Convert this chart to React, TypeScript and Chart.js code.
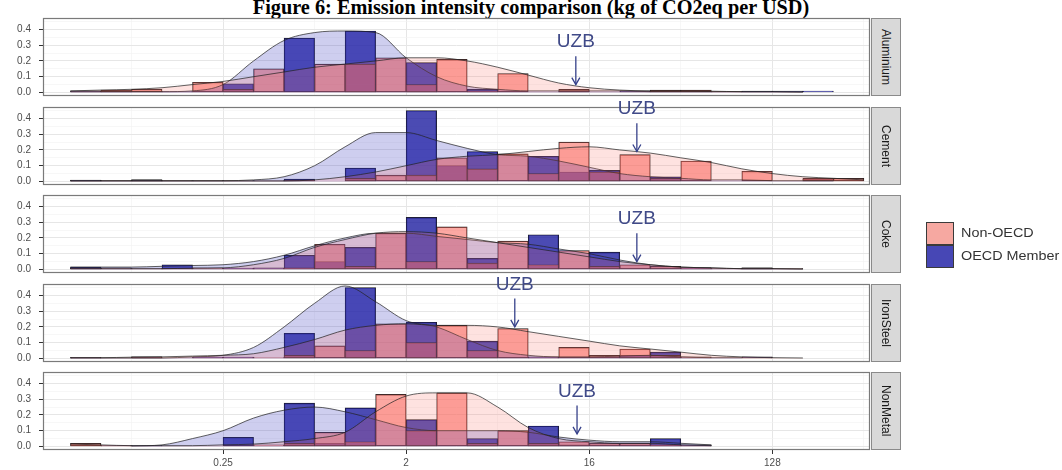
import React, { useEffect, useRef } from 'react';
import { Chart, registerables } from 'chart.js';

Chart.register(...registerables);

// ---------------- data ----------------
const sectors = ['Aluminium', 'Cement', 'Coke', 'IronSteel', 'NonMetal'];
const groupLabels = ['Non-OECD', 'OECD Member'];

// histogram bin centres (log2 of kg CO2eq per USD), bin width 0.5
const binCenters = [-4.25, -3.75, -3.25, -2.75, -2.25, -1.75, -1.25, -0.75, -0.25, 0.25, 0.75, 1.25, 1.75, 2.25, 2.75, 3.25, 3.75, 4.25, 4.75, 5.25, 5.75, 6.25, 6.75, 7.25, 7.75, 8.25];
// density sample positions (log2)
const densityX = [-4.5, -4, -3.5, -3, -2.5, -2, -1.5, -1, -0.5, 0, 0.5, 1, 1.5, 2, 2.5, 3, 3.5, 4, 4.5, 5, 5.5, 6, 6.5, 7, 7.5, 8, 8.5];

const xTickValues = [-2, 1, 4, 7];
const xTickLabels = ['0.25', '2', '16', '128'];
const xMinorTicks = [-3.5, -0.5, 2.5, 5.5, 8.5];
const yTickValues = [0, 0.1, 0.2, 0.3, 0.4];
const yTickLabels = ['0.0', '0.1', '0.2', '0.3', '0.4'];
const yMinorTicks = [0.05, 0.15, 0.25, 0.35, 0.45];

// histogram shares
const aluminiumNonOecd = [0, 0.015, 0.02, 0, 0.065, 0.02, 0.15, 0, 0.18, 0.18, 0.22, 0.05, 0.21, 0.01, 0.12, 0, 0.02, 0, 0, 0.015, 0.015, 0.005, 0, 0, 0, 0];
const aluminiumOecd = [0.01, 0.005, 0, 0.005, 0, 0.055, 0, 0.345, 0, 0.39, 0, 0.19, 0, 0.02, 0, 0, 0.01, 0, 0.01, 0, 0, 0, 0.008, 0.008, 0.008, 0];
const cementNonOecd = [0.005, 0.005, 0.005, 0.005, 0.005, 0.005, 0.005, 0.01, 0, 0.02, 0.04, 0.04, 0.15, 0.08, 0.175, 0.05, 0.25, 0.06, 0.17, 0.02, 0.13, 0, 0.065, 0, 0.02, 0.02];
const cementOecd = [0.008, 0, 0.012, 0, 0, 0, 0, 0.015, 0, 0.085, 0, 0.45, 0.1, 0.19, 0, 0.16, 0.06, 0.07, 0, 0.03, 0, 0, 0, 0, 0.015, 0];
const cokeNonOecd = [0.01, 0.01, 0.005, 0.005, 0.01, 0.005, 0.005, 0.01, 0.16, 0.02, 0.23, 0.05, 0.27, 0.04, 0.18, 0.03, 0.12, 0.02, 0.03, 0.02, 0.01, 0.005, 0.01, 0.005, 0, 0];
const cokeOecd = [0.015, 0, 0, 0.03, 0, 0.008, 0.01, 0.09, 0.05, 0.14, 0, 0.33, 0, 0.07, 0, 0.22, 0, 0.11, 0, 0, 0.01, 0, 0.01, 0, 0, 0];
const ironSteelNonOecd = [0.005, 0, 0.01, 0, 0.005, 0.005, 0.005, 0.02, 0.08, 0.05, 0.22, 0.1, 0.21, 0.05, 0.19, 0.005, 0.07, 0.02, 0.06, 0.02, 0.01, 0, 0.005, 0, 0, 0];
const ironSteelOecd = [0.005, 0, 0.01, 0, 0.008, 0.008, 0, 0.16, 0, 0.45, 0, 0.23, 0, 0.11, 0, 0.01, 0, 0, 0.02, 0.04, 0, 0, 0.01, 0, 0, 0];
const nonMetalNonOecd = [0.02, 0.005, 0, 0, 0, 0, 0.01, 0.02, 0.09, 0.03, 0.33, 0.1, 0.34, 0.02, 0.1, 0.02, 0.03, 0.02, 0.02, 0.01, 0.005, 0, 0, 0, 0, 0];
const nonMetalOecd = [0, 0.005, 0.005, 0, 0, 0.058, 0, 0.275, 0.02, 0.245, 0, 0.17, 0, 0.05, 0, 0.13, 0.01, 0, 0, 0.05, 0.01, 0, 0, 0, 0, 0];

// density curves
const aluminiumNonOecdDensity = [0.01, 0.015, 0.02, 0.03, 0.05, 0.07, 0.1, 0.13, 0.16, 0.18, 0.2, 0.22, 0.22, 0.2, 0.16, 0.11, 0.06, 0.03, 0.015, 0.01, 0.01, 0.008, 0.005, 0.005, 0.003, null, null];
const aluminiumOecdDensity = [0.005, 0.005, 0.005, 0.005, 0.01, 0.05, 0.2, 0.33, 0.38, 0.39, 0.38, 0.22, 0.1, 0.04, 0.02, 0.01, 0.01, 0.01, 0.01, 0.005, 0.005, 0.005, 0.005, 0.005, 0.003, null, null];
const cementNonOecdDensity = [0.003, 0.003, 0.003, 0.003, 0.003, 0.003, 0.003, 0.003, 0.01, 0.03, 0.06, 0.1, 0.14, 0.16, 0.17, 0.19, 0.21, 0.22, 0.2, 0.18, 0.15, 0.12, 0.08, 0.05, 0.03, 0.02, 0.01];
const cementOecdDensity = [0.005, 0.005, 0.005, 0.005, 0.005, 0.005, 0.01, 0.03, 0.1, 0.22, 0.31, 0.31, 0.26, 0.21, 0.17, 0.16, 0.13, 0.09, 0.05, 0.03, 0.02, 0.01, 0.01, 0.005, 0.005, 0.005, null];
const cokeNonOecdDensity = [0.005, 0.005, 0.005, 0.005, 0.008, 0.01, 0.03, 0.07, 0.14, 0.19, 0.23, 0.24, 0.23, 0.2, 0.17, 0.14, 0.11, 0.08, 0.05, 0.03, 0.015, 0.01, 0.005, 0.005, 0.003, null, null];
const cokeOecdDensity = [0.015, 0.015, 0.015, 0.02, 0.025, 0.03, 0.05, 0.09, 0.15, 0.2, 0.23, 0.23, 0.21, 0.19, 0.17, 0.16, 0.13, 0.1, 0.06, 0.03, 0.015, 0.01, 0.005, 0.005, 0.003, null, null];
const ironSteelNonOecdDensity = [0.005, 0.005, 0.008, 0.01, 0.015, 0.02, 0.03, 0.07, 0.12, 0.18, 0.21, 0.22, 0.21, 0.21, 0.2, 0.17, 0.14, 0.11, 0.08, 0.06, 0.04, 0.02, 0.01, 0.005, 0.003, null, null];
const ironSteelOecdDensity = [0.003, 0.003, 0.003, 0.003, 0.01, 0.02, 0.07, 0.2, 0.35, 0.46, 0.36, 0.24, 0.2, 0.12, 0.05, 0.02, 0.01, 0.01, 0.015, 0.02, 0.01, 0.005, 0.005, null, null, null, null];
const nonMetalNonOecdDensity = [0.015, 0.01, 0.005, 0.005, 0.005, 0.01, 0.015, 0.03, 0.05, 0.09, 0.22, 0.32, 0.34, 0.34, 0.25, 0.12, 0.05, 0.03, 0.02, 0.02, 0.01, 0.005, null, null, null, null, null];
const nonMetalOecdDensity = [null, null, 0.003, 0.01, 0.05, 0.1, 0.18, 0.23, 0.25, 0.22, 0.17, 0.12, 0.1, 0.1, 0.1, 0.09, 0.06, 0.04, 0.03, 0.03, 0.02, 0.01, null, null, null, null, null];

// Uzbekistan position (log2) and density height at that point
const uzbLog2 = [3.78, 4.78, 4.78, 2.78, 3.8];
const uzbTipY = [0.05, 0.19, 0.05, 0.2, 0.08];

const nonOecdHist = [aluminiumNonOecd, cementNonOecd, cokeNonOecd, ironSteelNonOecd, nonMetalNonOecd];
const oecdHist = [aluminiumOecd, cementOecd, cokeOecd, ironSteelOecd, nonMetalOecd];
const nonOecdDens = [aluminiumNonOecdDensity, cementNonOecdDensity, cokeNonOecdDensity, ironSteelNonOecdDensity, nonMetalNonOecdDensity];
const oecdDens = [aluminiumOecdDensity, cementOecdDensity, cokeOecdDensity, ironSteelOecdDensity, nonMetalOecdDensity];

// ---------------- layout / style ----------------
const FONT = '"Liberation Sans", Arial, Helvetica, sans-serif';
const PANEL_TOPS = [18, 107, 195, 284, 372];
const PANEL_H = 78;
const PAD_TOP = 34;
const PAD_BOTTOM = 22;
const X_AXIS_H = 20;
const CANVAS_W = 880;
const PAD_RIGHT = 10;
const Y_AXIS_W = 43;

const NON_BAR = 'rgba(250,110,100,0.6)';
const OECD_BAR = 'rgba(30,30,160,0.8)';
const NON_DENS = 'rgba(250,110,100,0.2)';
const OECD_DENS = 'rgba(60,60,190,0.25)';
const ARROW_COLOR = '#36418A';

const isNear = (a: number, list: number[]) => list.findIndex((v) => Math.abs(v - a) < 1e-6);

const decorPlugin = {
  id: 'panelDecor',
  afterDatasetsDraw(chart: any) {
    const { ctx, chartArea: a, scales } = chart;
    const o = chart.options.plugins.panelDecor;
    const xs = scales.x;
    const ys = scales.y;
    ctx.save();
    ctx.strokeStyle = '#7A7A7A';
    ctx.lineWidth = 1.2;
    ctx.strokeRect(a.left + 0.5, a.top + 0.5, a.right - a.left - 1, a.bottom - a.top - 1);
    const px = xs.getPixelForValue(o.uzbX);
    const tip = ys.getPixelForValue(o.tipY);
    const tail = ys.getPixelForValue(o.tipY + 0.18);
    const ty = ys.getPixelForValue(o.tipY + 0.27);
    ctx.strokeStyle = ARROW_COLOR;
    ctx.lineWidth = 1.3;
    ctx.beginPath();
    ctx.moveTo(px, tail);
    ctx.lineTo(px, tip);
    ctx.stroke();
    ctx.beginPath();
    ctx.moveTo(px - 4, tip - 7);
    ctx.lineTo(px, tip);
    ctx.lineTo(px + 4, tip - 7);
    ctx.stroke();
    ctx.fillStyle = '#404A88';
    ctx.font = `19px ${FONT}`;
    ctx.textAlign = 'center';
    ctx.textBaseline = 'middle';
    ctx.fillText('UZB', px, ty);
    ctx.restore();
  },
};

function Panel({ idx }: { idx: number }) {
  const ref = useRef<HTMLCanvasElement>(null);
  const isBottom = idx === sectors.length - 1;
  const height = PAD_TOP + PANEL_H + (isBottom ? X_AXIS_H : PAD_BOTTOM);

  useEffect(() => {
    const barData = (vals: number[]) => binCenters.map((c, i) => ({ x: c, y: vals[i] }));
    const densData = (vals: (number | null)[]) => densityX.map((c, i) => ({ x: c, y: vals[i] }));
    const chart = new Chart(ref.current as HTMLCanvasElement, {
      type: 'bar',
      data: {
        datasets: [
          {
            type: 'line',
            label: groupLabels[0] + ' density',
            data: densData(nonOecdDens[idx]) as any,
            borderColor: 'rgba(35,35,35,0.9)',
            borderWidth: 0.8,
            backgroundColor: NON_DENS,
            fill: 'origin',
            pointRadius: 0,
            tension: 0.4,
            cubicInterpolationMode: 'monotone',
            spanGaps: false,
            order: 0,
          } as any,
          {
            type: 'line',
            label: groupLabels[1] + ' density',
            data: densData(oecdDens[idx]) as any,
            borderColor: 'rgba(35,35,35,0.9)',
            borderWidth: 0.8,
            backgroundColor: OECD_DENS,
            fill: 'origin',
            pointRadius: 0,
            tension: 0.4,
            cubicInterpolationMode: 'monotone',
            spanGaps: false,
            order: 1,
          } as any,
          {
            type: 'bar',
            label: groupLabels[0],
            data: barData(nonOecdHist[idx]) as any,
            backgroundColor: NON_BAR,
            borderColor: '#1E1E1E',
            borderWidth: 0.7,
            borderSkipped: false,
            grouped: false,
            barPercentage: 1,
            categoryPercentage: 1,
            order: 2,
          } as any,
          {
            type: 'bar',
            label: groupLabels[1],
            data: barData(oecdHist[idx]) as any,
            backgroundColor: OECD_BAR,
            borderColor: '#1E1E1E',
            borderWidth: 0.7,
            borderSkipped: false,
            grouped: false,
            barPercentage: 1,
            categoryPercentage: 1,
            order: 3,
          } as any,
        ],
      },
      options: {
        responsive: false,
        animation: false,
        events: [],
        layout: { padding: { top: PAD_TOP, right: PAD_RIGHT, bottom: isBottom ? 0 : PAD_BOTTOM, left: 0 } },
        plugins: {
          legend: { display: false },
          tooltip: { enabled: false },
          title: { display: false },
          panelDecor: { uzbX: uzbLog2[idx], tipY: uzbTipY[idx] },
        } as any,
        scales: {
          x: {
            type: 'linear',
            min: -4.95,
            max: 8.6,
            offset: false,
            border: { display: false },
            afterBuildTicks: (s: any) => {
              s.ticks = [...xTickValues, ...xMinorTicks].sort((a, b) => a - b).map((v) => ({ value: v }));
            },
            afterFit: (s: any) => {
              s.height = isBottom ? X_AXIS_H : 0;
            },
            grid: {
              offset: false,
              drawTicks: isBottom,
              tickLength: 4,
              color: (c: any) => (c.tick && isNear(c.tick.value, xTickValues) >= 0 ? '#E6E6E6' : '#F2F2F2'),
              lineWidth: (c: any) => (c.tick && isNear(c.tick.value, xTickValues) >= 0 ? 1 : 0.6),
              tickColor: (c: any) => (c.tick && isNear(c.tick.value, xTickValues) >= 0 ? '#333333' : 'rgba(0,0,0,0)'),
            },
            ticks: {
              display: isBottom,
              autoSkip: false,
              maxRotation: 0,
              padding: 3,
              color: '#4D4D4D',
              font: { family: FONT, size: 10 },
              callback: (v: any) => {
                const k = isNear(Number(v), xTickValues);
                return k >= 0 ? xTickLabels[k] : '';
              },
            },
          },
          y: {
            type: 'linear',
            min: -0.0225,
            max: 0.4725,
            border: { display: false },
            afterBuildTicks: (s: any) => {
              s.ticks = [...yTickValues, ...yMinorTicks].sort((a, b) => a - b).map((v) => ({ value: v }));
            },
            afterFit: (s: any) => {
              s.width = Y_AXIS_W;
            },
            grid: {
              drawTicks: true,
              tickLength: 4,
              color: (c: any) => (c.tick && isNear(c.tick.value, yTickValues) >= 0 ? '#E6E6E6' : '#F2F2F2'),
              lineWidth: (c: any) => (c.tick && isNear(c.tick.value, yTickValues) >= 0 ? 1 : 0.6),
              tickColor: (c: any) => (c.tick && isNear(c.tick.value, yTickValues) >= 0 ? '#333333' : 'rgba(0,0,0,0)'),
            },
            ticks: {
              autoSkip: false,
              padding: 8,
              color: '#4D4D4D',
              font: { family: FONT, size: 10 },
              callback: (v: any) => {
                const k = isNear(Number(v), yTickValues);
                return k >= 0 ? yTickLabels[k] : '';
              },
            },
          },
        },
      },
      plugins: [decorPlugin as any],
    } as any);
    return () => chart.destroy();
  }, [idx, isBottom]);

  return (
    <canvas
      ref={ref}
      width={CANVAS_W}
      height={height}
      style={{ position: 'absolute', left: 0, top: PANEL_TOPS[idx] - PAD_TOP, width: CANVAS_W, height }}
    />
  );
}

export default function App() {
  const stripLeft = CANVAS_W - PAD_RIGHT + 1;
  const legendText: React.CSSProperties = {
    position: 'absolute',
    left: 961,
    fontFamily: FONT,
    fontSize: 12.5,
    color: '#333',
    whiteSpace: 'nowrap',
    transform: 'scaleX(1.15)',
    transformOrigin: 'left center',
  };
  return (
    <div style={{ position: 'fixed', left: 0, top: 0, width: 1062, height: 470, overflow: 'hidden', background: '#ffffff' }}>
      <div
        style={{
          position: 'absolute',
          top: -3,
          left: 0,
          width: 1062,
          textAlign: 'center',
          fontFamily: '"Liberation Serif", "Times New Roman", serif',
          fontWeight: 'bold',
          fontSize: 20.3,
          lineHeight: '20px',
          color: '#000',
          whiteSpace: 'nowrap',
        }}
      >
        Figure 6: Emission intensity comparison (kg of CO2eq per USD)
      </div>
      {sectors.map((s, i) => (
        <Panel key={s} idx={i} />
      ))}
      {sectors.map((s, i) => (
        <div
          key={'strip-' + s}
          style={{
            position: 'absolute',
            left: stripLeft,
            top: PANEL_TOPS[i],
            width: 30,
            height: PANEL_H,
            boxSizing: 'border-box',
            background: '#D9D9D9',
            border: '1px solid #8A8A8A',
            display: 'flex',
            alignItems: 'center',
            justifyContent: 'center',
          }}
        >
          <span style={{ writingMode: 'vertical-rl', fontFamily: FONT, fontSize: 12, color: '#1A1A1A' }}>{s}</span>
        </div>
      ))}
      <div style={{ position: 'absolute', left: 926, top: 222, width: 28, height: 23, boxSizing: 'border-box', background: '#F6A8A1', border: '1px solid #3A3A3A' }} />
      <div style={{ position: 'absolute', left: 926, top: 245, width: 28, height: 23, boxSizing: 'border-box', background: '#4747B5', border: '1px solid #3A3A3A' }} />
      <div style={{ ...legendText, top: 226 }}>{groupLabels[0]}</div>
      <div style={{ ...legendText, top: 249 }}>{groupLabels[1]}</div>
    </div>
  );
}
